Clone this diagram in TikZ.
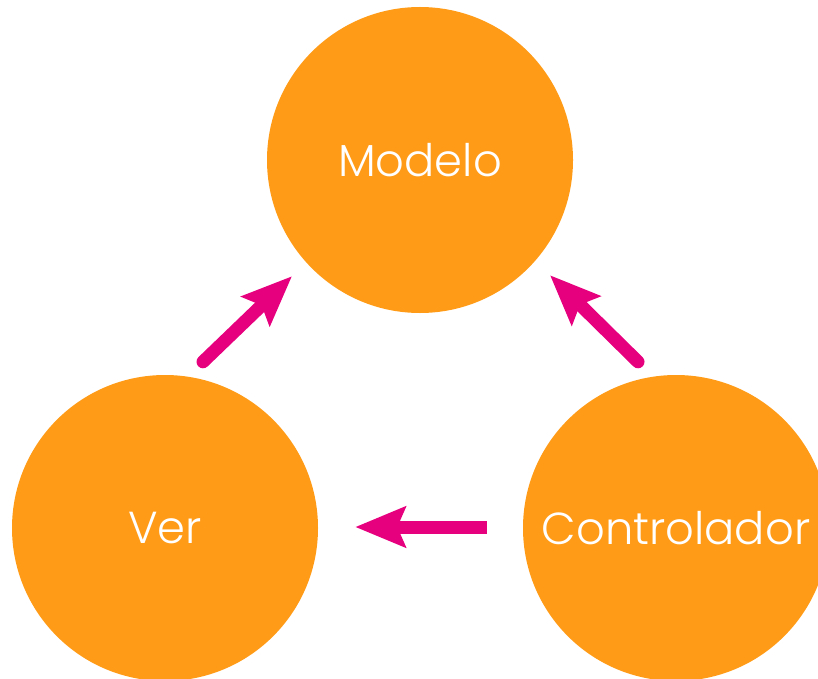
\documentclass[tikz,border=0pt]{standalone}
\usepackage{fontspec}
\newfontfamily\labelfont{Poppins}[UprightFont=* Light]
\usetikzlibrary{arrows.meta,calc}
\definecolor{mvcorange}{HTML}{FF9B17}
\definecolor{mvcpink}{HTML}{E6007E}
\tikzset{
  mvchead/.tip={Stealth[length=50bp,width=40bp,inset=8bp]}
}
\begin{document}
\begin{tikzpicture}[x=1bp,y=-1bp,
  part/.style={circle,fill=mvcorange,draw=none,minimum size=306bp,inner sep=0pt,
    text=white,font=\labelfont\fontsize{45}{50}\selectfont},
  flow/.style={draw=mvcpink,line width=13bp,-mvchead}]
  \useasboundingbox (0,0) rectangle (818,679);
  % the three parts of the pattern
  \node[part] (modelo) at (420,160) {\raisebox{-2bp}{Modelo}};
  \node[part] (ver)    at (165,528) {\raisebox{-2bp}{Ver}};
  \node[part] (ctrl)   at (676,528) {\raisebox{-2bp}{Controlador}};
  % arrows between them
  \draw[flow,line cap=round] ([shift={(38,-13)}]ver.north) -- ([shift={(-128,-37)}]modelo.south);
  \draw[flow,line cap=round] ([shift={(-38,-13)}]ctrl.north) -- ([shift={(130,-38)}]modelo.south);
  \draw[flow,line cap=butt] ([shift={(-36,-1)}]ctrl.west) -- ([shift={(37,-1)}]ver.east);
\end{tikzpicture}
\end{document}
